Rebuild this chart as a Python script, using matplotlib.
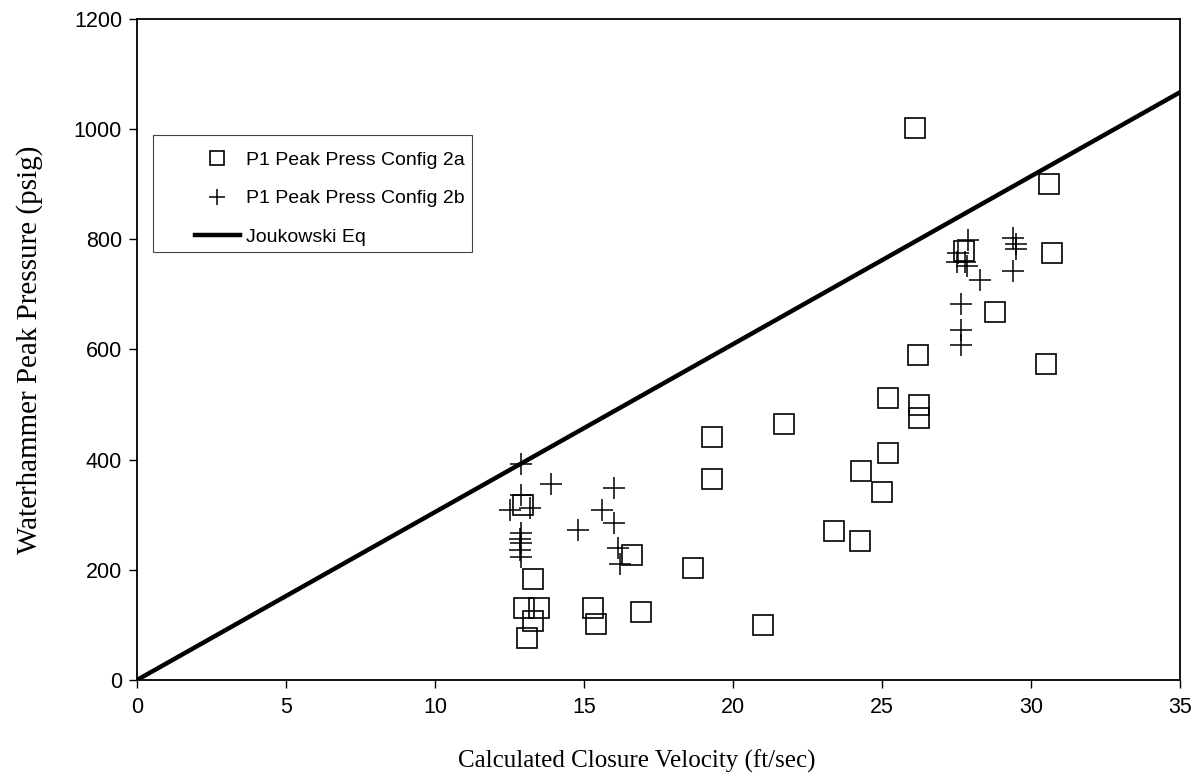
import matplotlib
matplotlib.use('Agg')
import matplotlib.pyplot as plt
from matplotlib.patches import Rectangle

# P1 peak pressure, config 2a (squares)
v_2a = [26.1, 30.6, 30.7, 28.8, 30.5, 26.2, 25.2, 26.25, 26.25, 21.7,
        19.3, 25.2, 24.3, 19.3, 25.0, 23.4, 24.25, 18.65, 21.0, 16.6,
        13.3, 12.97, 13.5, 13.3, 13.1, 15.3, 15.4, 16.9, 12.95, 27.75]
p_2a = [1003, 900, 775, 668, 573, 590, 512, 500, 475, 465,
        442, 412, 380, 365, 342, 271, 253, 204, 100, 227,
        183, 131, 130, 108, 76, 131, 101, 124, 318, 778]

# P1 peak pressure, config 2b (crosses)
v_2b = [12.9, 13.9, 16.0, 12.5, 13.2, 12.9, 15.6, 16.0, 14.8, 12.9,
        12.85, 12.9, 12.85, 12.9, 16.15, 16.2, 27.9, 27.55, 27.5, 27.8,
        27.85, 28.3, 27.65, 27.65, 27.65, 29.4, 29.5, 29.5, 29.4]
p_2b = [393, 355, 349, 308, 312, 335, 309, 285, 273, 267,
        256, 249, 236, 224, 240, 211, 798, 776, 759, 758,
        752, 726, 682, 635, 608, 802, 791, 783, 742]

# Joukowski equation line
v_jouk = [0, 35]
p_jouk = [0, 1067]

x_ticks = [0, 5, 10, 15, 20, 25, 30, 35]
y_ticks = [0, 200, 400, 600, 800, 1000, 1200]

fig = plt.figure(figsize=(12.04, 7.82), dpi=100)
ax = fig.add_axes([137 / 1204, 1 - 680 / 782, 1043 / 1204, 661 / 782])

ax.plot(v_2a, p_2a, 's', ms=15, mfc='none', mec='black', mew=1.2,
        label='P1 Peak Press Config 2a')
ax.plot(v_2b, p_2b, '+', ms=16, mec='black', mew=1.1,
        label='P1 Peak Press Config 2b')
ax.plot(v_jouk, p_jouk, '-', color='black', lw=3.2, label='Joukowski Eq')

ax.set_xlim(0, 35)
ax.set_ylim(0, 1200)
ax.set_xticks(x_ticks)
ax.set_yticks(y_ticks)

for lab in ax.get_xticklabels() + ax.get_yticklabels():
    lab.set_family('Liberation Sans')
    lab.set_fontsize(15.5)
ax.tick_params(axis='both', direction='out', length=5.8, width=1, colors='black')
ax.tick_params(axis='y', pad=5)
ax.tick_params(axis='x', pad=6.5)

for s in ax.spines.values():
    s.set_linewidth(1.3)

ax.set_xlabel('Calculated Closure Velocity (ft/sec)', family='Liberation Serif',
              fontsize=18)
ax.set_ylabel('Waterhammer Peak Pressure (psig)', family='Liberation Serif',
              fontsize=21)
ax.xaxis.set_label_coords(0.479, -0.106)
ax.yaxis.set_label_coords(-0.090, 0.5)

# legend entries, box drawn separately to get the wide left margin
leg = ax.legend(loc='upper left', bbox_to_anchor=(0.0556, 0.800),
                prop={'family': 'Liberation Sans', 'size': 14},
                frameon=False, markerscale=0.7,
                handlelength=2.3, handletextpad=0.3, labelspacing=1.08,
                borderpad=0, borderaxespad=0)
ax.add_patch(Rectangle((0.0153, 0.6475), 0.306, 0.177, transform=ax.transAxes,
                       fill=False, edgecolor='#444444', lw=0.8, zorder=4))

fig.savefig('out.png', dpi=100)
